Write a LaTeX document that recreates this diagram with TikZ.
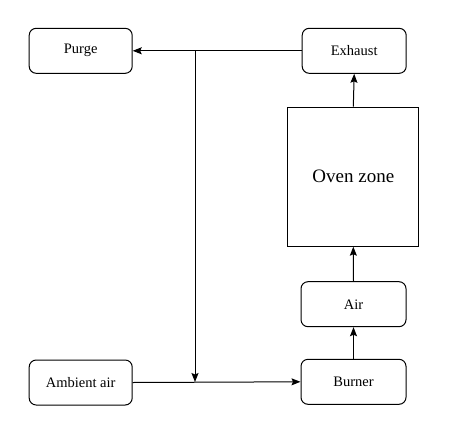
\documentclass[tikz,border=0pt]{standalone}
\usepackage{fontspec}
\setmainfont{Liberation Serif}
\usetikzlibrary{arrows.meta}
\begin{document}
\begin{tikzpicture}[x=1pt,y=-1pt,
  box/.style={draw, line width=1pt, rounded corners=7pt, minimum width=103pt, minimum height=45pt, inner sep=0pt, font=\fontsize{14.5}{17}\selectfont},
  bigbox/.style={draw, line width=1pt, minimum width=131pt, minimum height=139pt, inner sep=0pt, font=\fontsize{19}{22}\selectfont},
  conn/.style={line width=1pt},
  arr/.style={conn, -{Stealth[length=9pt,width=7pt,inset=1.5pt]}}]
\useasboundingbox (0,0) rectangle (458,426);
\node[box] (purge) at (80.7,50.8) {Purge};
\node[box, minimum width=104pt] (exhaust) at (354.2,50.8) {Exhaust};
\node[bigbox] (oven) at (353.3,176.7) {Oven zone};
\node[box, minimum width=105pt] (air) at (353.5,304.2) {Air};
\node[box, minimum width=105pt] (burner) at (353.5,381.8) {Burner};
\node[box] (ambient) at (80.7,382.5) {Ambient air};
\coordinate (j1) at (195,50.8);
\coordinate (j2) at (195,382);
\draw[arr] (exhaust.west) -- (purge.east);
\draw[arr] (j1) -- (j2);
\draw[arr] (ambient.east) -- (burner.west);
\draw[arr] (burner.north) -- (air.south);
\draw[arr] (air.north) -- (oven.south);
\draw[arr] (oven.north) -- (exhaust.south);
\end{tikzpicture}
\end{document}
